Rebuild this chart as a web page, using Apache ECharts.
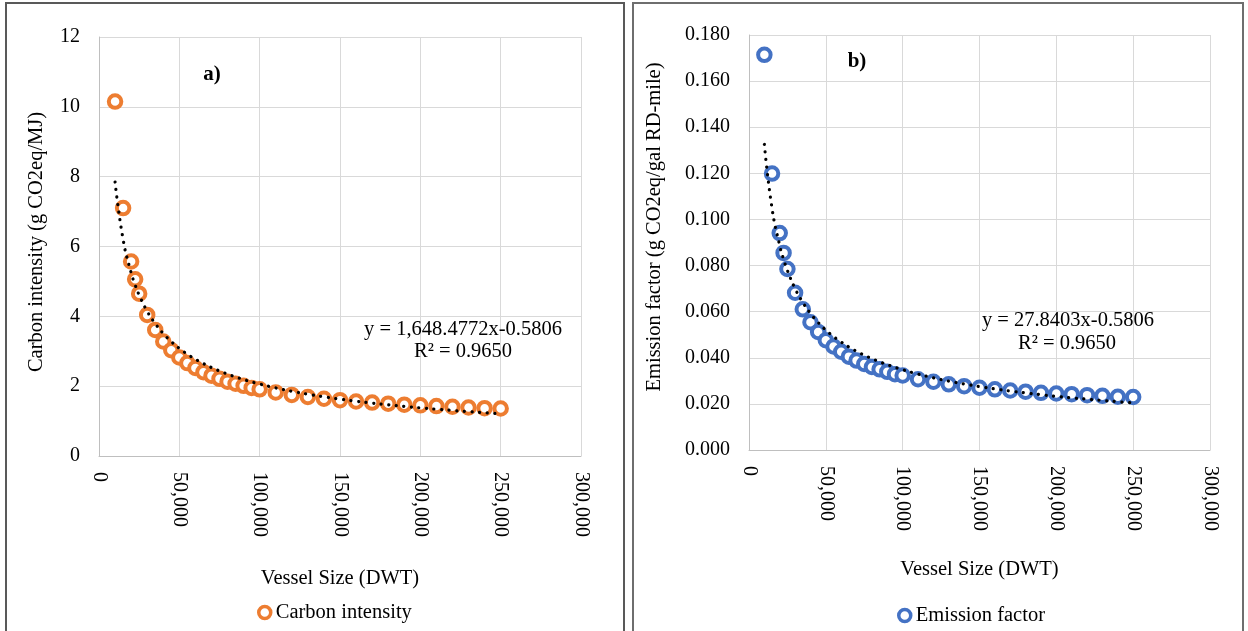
<!DOCTYPE html>
<html>
<head>
<meta charset="utf-8">
<script src="https://cdn.jsdelivr.net/npm/echarts@6/dist/echarts.min.js"></script>
<style>
html,body{margin:0;padding:0;background:#fff;}
#chart{width:1248px;height:631px;}
</style>
</head>
<body>
<div id="chart"></div>
<script>
// ---- data ----
const vesselSize = [10000, 15000, 20000, 22500, 25000, 30000, 35000, 40000, 45000, 50000,
  55000, 60000, 65000, 70000, 75000, 80000, 85000, 90000, 95000, 100000,
  110000, 120000, 130000, 140000, 150000, 160000, 170000, 180000, 190000, 200000,
  210000, 220000, 230000, 240000, 250000];
const carbonIntensity = [10.15, 7.10, 5.57, 5.06, 4.65, 4.04, 3.61, 3.28, 3.03, 2.82,
  2.66, 2.52, 2.40, 2.30, 2.21, 2.13, 2.07, 2.01, 1.95, 1.91,
  1.82, 1.75, 1.69, 1.64, 1.60, 1.56, 1.53, 1.50, 1.47, 1.45,
  1.43, 1.41, 1.39, 1.37, 1.36];
const emissionFactor = [0.1714, 0.1199, 0.0941, 0.0855, 0.0785, 0.0682, 0.0610, 0.0554, 0.0512, 0.0476,
  0.0449, 0.0426, 0.0405, 0.0388, 0.0373, 0.0360, 0.0350, 0.0339, 0.0329, 0.0323,
  0.0307, 0.0296, 0.0285, 0.0277, 0.0270, 0.0263, 0.0258, 0.0253, 0.0248, 0.0245,
  0.0242, 0.0238, 0.0235, 0.0231, 0.0230];
// power trendline coefficients as printed on the chart
const fitCoefA = 1648.4772;
const fitCoefB = 27.8403;
const fitExp = -0.5806;
const fitR2 = '0.9650';
const seriesNames = ['Carbon intensity', 'Emission factor'];
const xTitle = 'Vessel Size (DWT)';
const yTitleA = 'Carbon intensity (g CO2eq/MJ)';
const yTitleB = 'Emission factor (g CO2eq/gal RD-mile)';
const eqTextA = 'y = 1,648.4772x-0.5806';
const eqTextB = 'y = 27.8403x-0.5806';

// ---- build ----
const ptsA = vesselSize.map((x, i) => [x, carbonIntensity[i]]);
const ptsB = vesselSize.map((x, i) => [x, emissionFactor[i]]);
const trendA = vesselSize.map(x => [x, fitCoefA * Math.pow(x, fitExp)]);
const trendB = vesselSize.map(x => [x, fitCoefB * Math.pow(x, fitExp)]);

const FONT = '"Liberation Serif", "Times New Roman", serif';
const orange = '#ED7D31';
const blue = '#4472C4';
const fmtThousands = v => String(v).replace(/\B(?=(\d{3})+(?!\d))/g, ',');

function xAxisCfg(gi, gap) {
  return {
    gridIndex: gi, type: 'value', min: 0, max: 300000, interval: 50000,
    axisLine: {show: true, lineStyle: {color: '#bfbfbf', width: 1}},
    axisTick: {show: false},
    splitLine: {show: true, lineStyle: {color: '#d9d9d9', width: 1}},
    axisLabel: {rotate: -90, margin: 16, fontSize: 20, fontFamily: FONT, color: '#000', formatter: fmtThousands},
    name: xTitle, nameLocation: 'middle', nameGap: gap,
    nameTextStyle: {fontSize: 20.5, fontFamily: FONT, color: '#000'}
  };
}

const chart = echarts.init(document.getElementById('chart'), null, {renderer: 'canvas'});
chart.setOption({
  animation: false,
  backgroundColor: '#fff',
  grid: [
    {left: 99, top: 37, width: 482, height: 419},
    {left: 749, top: 35, width: 461, height: 415}
  ],
  xAxis: [xAxisCfg(0, 112), xAxisCfg(1, 109)],
  yAxis: [
    {gridIndex: 0, type: 'value', min: 0, max: 12, interval: 2,
      axisLine: {show: true, lineStyle: {color: '#bfbfbf', width: 1}},
      axisTick: {show: false},
      splitLine: {show: true, lineStyle: {color: '#d9d9d9', width: 1}},
      axisLabel: {margin: 19, fontSize: 20, fontFamily: FONT, color: '#000'}},
    {gridIndex: 1, type: 'value', min: 0, max: 0.18, interval: 0.02,
      axisLine: {show: true, lineStyle: {color: '#bfbfbf', width: 1}},
      axisTick: {show: false},
      splitLine: {show: true, lineStyle: {color: '#d9d9d9', width: 1}},
      axisLabel: {margin: 19, fontSize: 20, fontFamily: FONT, color: '#000', formatter: v => v.toFixed(3)}}
  ],
  legend: [
    {data: [{name: seriesNames[0], icon: 'circle', itemStyle: {color: '#fff', borderColor: orange, borderWidth: 3.5}}],
      left: 252, top: 597, itemWidth: 12, itemHeight: 12,
      textStyle: {fontSize: 20.5, fontFamily: FONT, color: '#000'}},
    {data: [{name: seriesNames[1], icon: 'circle', itemStyle: {color: '#fff', borderColor: blue, borderWidth: 3.5}}],
      left: 892, top: 600, itemWidth: 12, itemHeight: 12,
      textStyle: {fontSize: 20.5, fontFamily: FONT, color: '#000'}}
  ],
  series: [
    {name: seriesNames[0], type: 'scatter', xAxisIndex: 0, yAxisIndex: 0, data: ptsA,
      symbol: 'circle', symbolSize: 12.5,
      itemStyle: {color: '#fff', borderColor: orange, borderWidth: 4, opacity: 1}, z: 2},
    {name: 'trendA', type: 'line', xAxisIndex: 0, yAxisIndex: 0, data: trendA, smooth: true,
      showSymbol: false, symbol: 'none', silent: true,
      lineStyle: {color: '#000', width: 3.2, type: [0.1, 7.5], cap: 'round'}, z: 3},
    {name: seriesNames[1], type: 'scatter', xAxisIndex: 1, yAxisIndex: 1, data: ptsB,
      symbol: 'circle', symbolSize: 12.5,
      itemStyle: {color: '#fff', borderColor: blue, borderWidth: 4, opacity: 1}, z: 2},
    {name: 'trendB', type: 'line', xAxisIndex: 1, yAxisIndex: 1, data: trendB, smooth: true,
      showSymbol: false, symbol: 'none', silent: true,
      lineStyle: {color: '#000', width: 3.2, type: [0.1, 7.5], cap: 'round'}, z: 3}
  ],
  graphic: [
    {type: 'rect', shape: {x: 6, y: 3, width: 618, height: 650}, style: {fill: null, stroke: '#595959', lineWidth: 2}, z: 100},
    {type: 'rect', shape: {x: 633, y: 3, width: 610, height: 650}, style: {fill: null, stroke: '#6e6e6e', lineWidth: 2}, z: 100},
    {type: 'text', x: 37, y: 242, rotation: Math.PI / 2,
      style: {text: yTitleA, font: '20.5px ' + FONT, fill: '#000', align: 'center', verticalAlign: 'middle'}, z: 100},
    {type: 'text', x: 655, y: 227, rotation: Math.PI / 2,
      style: {text: yTitleB, font: '20.5px ' + FONT, fill: '#000', align: 'center', verticalAlign: 'middle'}, z: 100},
    {type: 'text', x: 212, y: 75,
      style: {text: 'a)', font: 'bold 21px ' + FONT, fill: '#000', align: 'center', verticalAlign: 'middle'}, z: 100},
    {type: 'text', x: 857, y: 62,
      style: {text: 'b)', font: 'bold 21px ' + FONT, fill: '#000', align: 'center', verticalAlign: 'middle'}, z: 100},
    {type: 'text', x: 463, y: 330,
      style: {text: eqTextA, font: '20.5px ' + FONT, fill: '#000', align: 'center', verticalAlign: 'middle'}, z: 100},
    {type: 'text', x: 463, y: 352,
      style: {text: 'R² = ' + fitR2, font: '20.5px ' + FONT, fill: '#000', align: 'center', verticalAlign: 'middle'}, z: 100},
    {type: 'text', x: 1068, y: 321,
      style: {text: eqTextB, font: '20.5px ' + FONT, fill: '#000', align: 'center', verticalAlign: 'middle'}, z: 100},
    {type: 'text', x: 1067, y: 344,
      style: {text: 'R² = ' + fitR2, font: '20.5px ' + FONT, fill: '#000', align: 'center', verticalAlign: 'middle'}, z: 100}
  ]
});
</script>
</body>
</html>
